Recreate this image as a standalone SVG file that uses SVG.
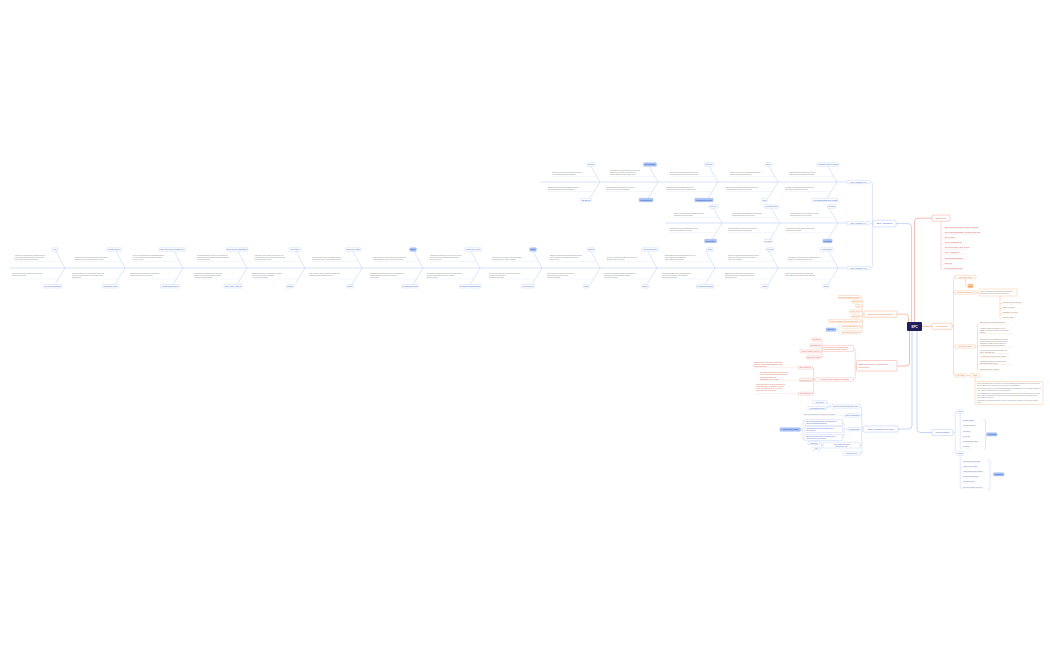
<svg xmlns="http://www.w3.org/2000/svg" width="1050" height="650" viewBox="0 0 1050 650">
<style>
text{font-family:"Liberation Sans",Arial,sans-serif}
.l{fill:#fff;stroke:#b7cbf5;stroke-width:.4}
.lf{fill:#a9c3f7;stroke:#8eaff1;stroke-width:.4}
.t{font-size:1.8px;fill:#3d5fc8;text-anchor:middle}
.tf{font-size:1.8px;fill:#1f3c8f;text-anchor:middle}
.g{font-size:1.5px;fill:#7c7c7c}
.sp{stroke:#c3d4f6;stroke-width:.7;fill:none}
.rb{stroke:#b3c7f3;stroke-width:.45;fill:none}
.ul{stroke:#d6e1f7;stroke-width:.3;fill:none}
.ulo{stroke:#f9d3b5;stroke-width:.3;fill:none}
.ulr{stroke:#f6c9c4;stroke-width:.3;fill:none}
.lo{fill:#fff;stroke:#f6b88b;stroke-width:.4}
.lof{fill:#fbc08f;stroke:#f4a264;stroke-width:.4}
.lr{fill:#fff;stroke:#f2a9a2;stroke-width:.4}
.to{font-size:1.8px;fill:#e07b31;text-anchor:middle}
.tr{font-size:1.8px;fill:#d5534a;text-anchor:middle}
.rt{font-size:1.45px;fill:#d5534a}
.ot{font-size:1.45px;fill:#8a7566}
.co{stroke:#f6b88b;stroke-width:.45;fill:none}
.cr{stroke:#f2a9a2;stroke-width:.45;fill:none}
.cb{stroke:#b7cbf5;stroke-width:.45;fill:none}
.main{stroke-width:.8}
.big{font-size:2.2px}
.sm{font-size:1.55px}
</style>
<rect width="1050" height="650" fill="#fff"/>

<!-- connectors from root -->
<g id="connectors">
<path class="cr main" d="M914.5,322V221.5Q914.5,218.2 917.8,218.2H932"/>
<path class="cb main" d="M896,223.6H908.3Q911.5,223.6 911.5,226.8V322"/>
<path class="co main" d="M897,314.1H905Q908.5,314.1 908.5,317.6V322"/>
<path class="cr main" d="M897,366H906Q909.5,366 909.5,362.5V331"/>
<path class="cb main" d="M898,429H908.5Q912,429 912,425.5V331"/>
<path class="co main" d="M922,326.3H932"/>
<path class="cb main" d="M917,331V429Q917,432.5 920.5,432.5H932"/>
</g>

<!-- root -->
<g id="root">
<rect x="907" y="322" width="15" height="9" rx="1" fill="#211e5e"/>
<text x="914.5" y="327.6" font-size="3" font-weight="bold" fill="#fff" text-anchor="middle">EPC</text>
</g>

<!-- EPC Application with fishbones -->
<g id="epc-application">
<rect class="l" x="873" y="220.3" width="23" height="6.6" rx="1" style="stroke-width:.55"/>
<text class="t big" x="884.5" y="224.4">EPC Application</text>
<path class="cb" d="M870,182H870.7Q872.5,182 872.5,183.8V266.2Q872.5,268 870.7,268H870M870,223.6H873"/>
</g>

<g id="fishbone-v13">
<path class="sp" d="M540,182H847"/>
<rect class="l" x="847" y="180.3" width="23" height="3.4" rx=".6"/>
<text class="t" x="858.5" y="182.6" style="font-size:1.7px">EPC Application V1.3</text>
<g id="v13-r1">
<path class="rb" d="M591,166.2L600,182L590,198.3"/>
<rect class="l" x="587.3" y="162.8" width="7.4" height="3.4" rx=".6"/><text class="t" x="591" y="165.15">Sketch</text>
<rect class="l" x="580.5" y="198.3" width="11" height="3.4" rx=".6"/><text class="t" x="586" y="200.65">CE-BUILD</text>
<text class="g" x="552" y="172.8">Sketch of the concept is prepared for the first<tspan x="552" dy="2.1">client workshop and early feedback.</tspan></text>
<path class="ul" d="M552,176.5H596.9"/>
<text class="g" x="548" y="187.8">CE build of the basic design package with the<tspan x="548" dy="2.1">key equipment list and plot plan layouts.</tspan></text>
<path class="ul" d="M548,191.5H594.2"/>
</g>
<g id="v13-r2">
<path class="rb" d="M649,166.2L658,182L648,198.3"/>
<rect class="lf" x="643.6" y="162.8" width="12.8" height="3.4" rx=".6"/><text class="tf" x="650" y="165.15">Deliverables</text>
<rect class="lf" x="639.2" y="198.3" width="13.7" height="3.4" rx=".6"/><text class="tf" x="646" y="200.65">Manufacturing</text>
<text class="g" x="610" y="170.7">Deliverables list is agreed with the client and<tspan x="610" dy="2.1">linked to the payment milestones of the</tspan><tspan x="610" dy="2.1">contract. Each item has a single owner.</tspan></text>
<path class="ul" d="M610,176.5H654.9"/>
<text class="g" x="606" y="187.8">Manufacturing of long lead items is started<tspan x="606" dy="2.1">early to protect the overall schedule.</tspan></text>
<path class="ul" d="M606,191.5H652.2"/>
</g>
<g id="v13-r3">
<path class="rb" d="M709,166.2L718,182L708,198.3"/>
<rect class="l" x="704.4" y="162.8" width="9.2" height="3.4" rx=".6"/><text class="t" x="709" y="165.15">Delivery</text>
<rect class="lf" x="694.9" y="198.3" width="18.2" height="3.4" rx=".6"/><text class="tf" x="704" y="200.65">Manufacturing Plan</text>
<text class="g" x="670" y="172.8">Delivery report shows the status of all the<tspan x="670" dy="2.1">deliverables and the open issues per area.</tspan></text>
<path class="ul" d="M670,176.5H714.9"/>
<text class="g" x="666" y="187.8">Manufacturing plan is aligned with the site<tspan x="666" dy="2.1">construction sequence and the logistics plan.</tspan></text>
<path class="ul" d="M666,191.5H712.2"/>
</g>
<g id="v13-r4">
<path class="rb" d="M769,166.2L778,182L768,198.3"/>
<rect class="l" x="765.3" y="162.8" width="6.5" height="3.4" rx=".6"/><text class="t" x="768.5" y="165.15">Story</text>
<rect class="l" x="761.7" y="198.3" width="5.6" height="3.4" rx=".6"/><text class="t" x="764.5" y="200.65">Step</text>
<text class="g" x="730" y="172.8">Story of the project is documented for lessons<tspan x="730" dy="2.1">learned and for future EPC bids.</tspan></text>
<path class="ul" d="M730,176.5H774.9"/>
<text class="g" x="726" y="187.8">Each step of the workflow has a clear entry and<tspan x="726" dy="2.1">exit criteria agreed with the client team.</tspan></text>
<path class="ul" d="M726,191.5H772.2"/>
</g>
<g id="v13-r5">
<path class="rb" d="M828,166.2L837,182L827,198.3"/>
<rect class="l" x="817.1" y="162.8" width="21.8" height="3.4" rx=".6"/><text class="t" x="828" y="165.15">Program Feature Mining</text>
<rect class="l" x="812.3" y="198.3" width="25.4" height="3.4" rx=".6"/><text class="t" x="825" y="200.65">Approach Engagement Mining</text>
<text class="g" x="789" y="172.8">Program feature mining collects the key<tspan x="789" dy="2.1">features from previous EPC programs.</tspan></text>
<path class="ul" d="M789,176.5H833.9"/>
<text class="g" x="785" y="187.8">Approach for engagement mining with client<tspan x="785" dy="2.1">and vendors is defined at the start.</tspan></text>
<path class="ul" d="M785,191.5H831.2"/>
</g>
</g>

<g id="fishbone-v14">
<path class="sp" d="M665,223H847"/>
<rect class="l" x="847" y="221.3" width="23" height="3.4" rx=".6"/>
<text class="t" x="858.5" y="223.6" style="font-size:1.7px">EPC Application V1.4</text>
<g id="v14-r1">
<path class="rb" d="M713,208.2L722,223L712,239.3"/>
<rect class="l" x="708.9" y="204.8" width="9.2" height="3.4" rx=".6"/><text class="t" x="713.5" y="207.15">Delivery</text>
<rect class="lf" x="704.6" y="239.3" width="11.9" height="3.4" rx=".6"/><text class="tf" x="710.5" y="241.65">Deliverable</text>
<text class="g" x="674" y="213.8">Delivery of the documents follows the agreed<tspan x="674" dy="2.1">document control procedure.</tspan></text>
<path class="ul" d="M674,217.5H718.7"/>
<text class="g" x="670" y="229">Deliverable register is updated after each<tspan x="670" dy="2.1">issue and transmittal to the client.</tspan></text>
<path class="ul" d="M670,232.7H716.1"/>
</g>
<g id="v14-r2">
<path class="rb" d="M771,208.2L780,223L770,239.3"/>
<rect class="l" x="764.7" y="204.8" width="13.7" height="3.4" rx=".6"/><text class="t" x="771.5" y="207.15">Meeting Notes</text>
<rect class="l" x="763.9" y="239.3" width="8.3" height="3.4" rx=".6"/><text class="t" x="768" y="241.65">Meeting</text>
<text class="g" x="732" y="213.8">Meeting notes are shared within two working<tspan x="732" dy="2.1">days together with all action items.</tspan></text>
<path class="ul" d="M732,217.5H776.7"/>
<text class="g" x="728" y="229">Meeting schedule is fixed for the full project<tspan x="728" dy="2.1">duration and shared in the calendar.</tspan></text>
<path class="ul" d="M728,232.7H774.1"/>
</g>
<g id="v14-r3">
<path class="rb" d="M829,208.2L838,223L828,239.3"/>
<rect class="l" x="827.4" y="204.8" width="8.3" height="3.4" rx=".6"/><text class="t" x="831.5" y="207.15">Meeting</text>
<rect class="lf" x="822.9" y="239.3" width="9.2" height="3.4" rx=".6"/><text class="tf" x="827.5" y="241.65">Meetings</text>
<text class="g" x="790" y="213.8">Meeting with the client to confirm the scope<tspan x="790" dy="2.1">and the priorities for the release.</tspan></text>
<path class="ul" d="M790,217.5H834.7"/>
<text class="g" x="786" y="229">Meetings are recorded and the minutes are<tspan x="786" dy="2.1">approved by all parties.</tspan></text>
<path class="ul" d="M786,232.7H832.1"/>
</g>
</g>

<g id="fishbone-v15">
<path class="sp" d="M10,268H847"/>
<rect class="l" x="847" y="266.3" width="23" height="3.4" rx=".6"/>
<text class="t" x="858.5" y="268.6" style="font-size:1.7px">EPC Application V1.5</text>
<g id="v15-r1">
<path class="rb" d="M56,251.2L65,268L55,284.6"/>
<rect class="l" x="52" y="247.8" width="6" height="3.4" rx=".6"/><text class="t" x="55" y="250.15">Idle</text>
<rect class="l" x="43" y="284.6" width="19" height="3.4" rx=".6"/><text class="t" x="52.5" y="286.95">Cell Process Markup</text>
<text class="g" x="15" y="256">Idle state is tracked before the EPC kickoff so<tspan x="15" dy="2.1">that all stakeholders know the current status</tspan><tspan x="15" dy="2.1">of the work package and the owner.</tspan></text>
<path class="ul" d="M15,261.5H61.5"/>
<text class="g" x="12" y="273.5">Cell process markup is shared with the design<tspan x="12" dy="2.1">team for early review.</tspan></text>
<path class="ul" d="M12,279H58.4"/>
</g>
<g id="v15-r2">
<path class="rb" d="M116,251.2L125,268L115,284.6"/>
<rect class="l" x="107" y="247.8" width="14" height="3.4" rx=".6"/><text class="t" x="114" y="250.15">Control Group</text>
<rect class="l" x="102.5" y="284.6" width="15.5" height="3.4" rx=".6"/><text class="t" x="110.25" y="286.95">Contracted Work</text>
<text class="g" x="75" y="258.1">Control group verifies each engineering package<tspan x="75" dy="2.1">against the agreed template before release.</tspan></text>
<path class="ul" d="M75,261.5H121.5"/>
<text class="g" x="72" y="273.5">Contracted work is split into packages with clear<tspan x="72" dy="2.1">scope, cost and schedule for each vendor and</tspan><tspan x="72" dy="2.1">subcontractor.</tspan></text>
<path class="ul" d="M72,279H118.4"/>
</g>
<g id="v15-r3">
<path class="rb" d="M174,251.2L183,268L173,284.6"/>
<rect class="l" x="159" y="247.8" width="26" height="3.4" rx=".6"/><text class="t" x="172" y="250.15">EPC Test Using Template Set</text>
<rect class="l" x="160.5" y="284.6" width="19" height="3.4" rx=".6"/><text class="t" x="170" y="286.95">Collaboration Group</text>
<text class="g" x="133" y="256">Test set is created using the standard template<tspan x="133" dy="2.1">set for all EPC deliverables and is validated</tspan><tspan x="133" dy="2.1">by the QA team.</tspan></text>
<path class="ul" d="M133,261.5H179.5"/>
<text class="g" x="130" y="273.5">Collaboration group reviews the results and<tspan x="130" dy="2.1">raises issues for the next iteration.</tspan></text>
<path class="ul" d="M130,279H176.4"/>
</g>
<g id="v15-r4">
<path class="rb" d="M238,251.2L247,268L237,284.6"/>
<rect class="l" x="226.5" y="247.8" width="21" height="3.4" rx=".6"/><text class="t" x="237" y="250.15">EPC Review Submission</text>
<rect class="l" x="224" y="284.6" width="18" height="3.4" rx=".6"/><text class="t" x="233" y="286.95">EPC Login Approval</text>
<text class="g" x="197" y="256">Review submission is sent to the client with all<tspan x="197" dy="2.1">supporting documents and calculations attached</tspan><tspan x="197" dy="2.1">for formal approval.</tspan></text>
<path class="ul" d="M197,261.5H243.5"/>
<text class="g" x="194" y="273.5">Login approval is granted to the client and<tspan x="194" dy="2.1">partners for the shared document portal.</tspan><tspan x="194" dy="2.1">Access is reviewed monthly.</tspan></text>
<path class="ul" d="M194,279H240.4"/>
</g>
<g id="v15-r5">
<path class="rb" d="M296,251.2L305,268L295,284.6"/>
<rect class="l" x="289" y="247.8" width="12" height="3.4" rx=".6"/><text class="t" x="295" y="250.15">Idle Gainer</text>
<rect class="l" x="286.3" y="284.6" width="7.4" height="3.4" rx=".6"/><text class="t" x="290" y="286.95">Ending</text>
<text class="g" x="255" y="256">Idle gainer time is used to prepare the next<tspan x="255" dy="2.1">work package and to close open action items</tspan><tspan x="255" dy="2.1">from the previous review.</tspan></text>
<path class="ul" d="M255,261.5H301.5"/>
<text class="g" x="252" y="273.5">Ending of the phase is confirmed by a formal<tspan x="252" dy="2.1">sign-off from the project manager.</tspan><tspan x="252" dy="2.1">All records are archived.</tspan></text>
<path class="ul" d="M252,279H298.4"/>
</g>
<g id="v15-r6">
<path class="rb" d="M353,251.2L362,268L352,284.6"/>
<rect class="l" x="345.3" y="247.8" width="15.4" height="3.4" rx=".6"/><text class="t" x="353" y="250.15">Challenge Phase</text>
<rect class="l" x="346.8" y="284.6" width="6.5" height="3.4" rx=".6"/><text class="t" x="350" y="286.95">Scope</text>
<text class="g" x="312" y="258.1">Challenge phase collects feedback from the<tspan x="312" dy="2.1">construction team on constructability issues.</tspan></text>
<path class="ul" d="M312,261.5H358.5"/>
<text class="g" x="309" y="273.5">Scope is frozen after the challenge phase and<tspan x="309" dy="2.1">changes go through change control.</tspan></text>
<path class="ul" d="M309,279H355.4"/>
</g>
<g id="v15-r7">
<path class="rb" d="M414,251.2L423,268L413,284.6"/>
<rect class="lf" x="409.8" y="247.8" width="6.5" height="3.4" rx=".6"/><text class="tf" x="413" y="250.15">Scope</text>
<rect class="l" x="401.8" y="284.6" width="16.4" height="3.4" rx=".6"/><text class="t" x="410" y="286.95">Continuous Scrum</text>
<text class="g" x="373" y="258.1">Scope definition covers engineering, procurement<tspan x="373" dy="2.1">and construction items for the current release.</tspan></text>
<path class="ul" d="M373,261.5H419.5"/>
<text class="g" x="370" y="273.5">Continuous scrum meetings keep the team aligned<tspan x="370" dy="2.1">on daily progress, blockers and priorities</tspan><tspan x="370" dy="2.1">for the sprint.</tspan></text>
<path class="ul" d="M370,279H416.4"/>
</g>
<g id="v15-r8">
<path class="rb" d="M471,251.2L480,268L470,284.6"/>
<rect class="l" x="464.8" y="247.8" width="16.4" height="3.4" rx=".6"/><text class="t" x="473" y="250.15">Challenge Period</text>
<rect class="l" x="459.5" y="284.6" width="21" height="3.4" rx=".6"/><text class="t" x="470" y="286.95">Continuous Engagement</text>
<text class="g" x="430" y="256">Challenge period gives the client time to review<tspan x="430" dy="2.1">and challenge the proposed design solution</tspan><tspan x="430" dy="2.1">before the freeze.</tspan></text>
<path class="ul" d="M430,261.5H476.5"/>
<text class="g" x="427" y="273.5">Continuous engagement with the client and vendors<tspan x="427" dy="2.1">ensures fast decisions and fewer reworks</tspan><tspan x="427" dy="2.1">during execution.</tspan></text>
<path class="ul" d="M427,279H473.4"/>
</g>
<g id="v15-r9">
<path class="rb" d="M533,251.2L542,268L532,284.6"/>
<rect class="lf" x="529.8" y="247.8" width="6.5" height="3.4" rx=".6"/><text class="tf" x="533" y="250.15">Scope</text>
<rect class="l" x="521.6" y="284.6" width="12.8" height="3.4" rx=".6"/><text class="t" x="528" y="286.95">Lap Reviewer</text>
<text class="g" x="492" y="258.1">Scope for the next phase is reviewed against<tspan x="492" dy="2.1">the budget and the master schedule.</tspan></text>
<path class="ul" d="M492,261.5H538.5"/>
<text class="g" x="489" y="273.5">Lap reviewer checks every deliverable before it<tspan x="489" dy="2.1">is issued for construction.</tspan><tspan x="489" dy="2.1">Comments are logged.</tspan></text>
<path class="ul" d="M489,279H535.4"/>
</g>
<g id="v15-r10">
<path class="rb" d="M591,251.2L600,268L590,284.6"/>
<rect class="l" x="587.3" y="247.8" width="7.4" height="3.4" rx=".6"/><text class="t" x="591" y="250.15">Budget</text>
<rect class="l" x="583.2" y="284.6" width="5.6" height="3.4" rx=".6"/><text class="t" x="586" y="286.95">Cost</text>
<text class="g" x="550" y="256">Budget is tracked per work package with earned<tspan x="550" dy="2.1">value reporting every month to the sponsor</tspan><tspan x="550" dy="2.1">and the client.</tspan></text>
<path class="ul" d="M550,261.5H596.5"/>
<text class="g" x="547" y="273.5">Cost variance is reported to the steering<tspan x="547" dy="2.1">committee with a recovery plan.</tspan><tspan x="547" dy="2.1">Forecast is updated.</tspan></text>
<path class="ul" d="M547,279H593.4"/>
</g>
<g id="v15-r11">
<path class="rb" d="M648,251.2L657,268L647,284.6"/>
<rect class="l" x="641.8" y="247.8" width="16.4" height="3.4" rx=".6"/><text class="t" x="650" y="250.15">Cut: Build Phase</text>
<rect class="l" x="641.8" y="284.6" width="6.5" height="3.4" rx=".6"/><text class="t" x="645" y="286.95">Scope</text>
<text class="g" x="607" y="258.1">Cut-over to build phase happens only after all<tspan x="607" dy="2.1">design reviews are closed.</tspan></text>
<path class="ul" d="M607,261.5H653.5"/>
<text class="g" x="604" y="273.5">Scope changes during build are minimised and<tspan x="604" dy="2.1">assessed for cost and schedule impact.</tspan><tspan x="604" dy="2.1">Approval is required.</tspan></text>
<path class="ul" d="M604,279H650.4"/>
</g>
<g id="v15-r12">
<path class="rb" d="M706,251.2L715,268L705,284.6"/>
<rect class="l" x="706.8" y="247.8" width="6.5" height="3.4" rx=".6"/><text class="t" x="710" y="250.15">Build</text>
<rect class="l" x="696.4" y="284.6" width="17.3" height="3.4" rx=".6"/><text class="t" x="705" y="286.95">Continuous Budget</text>
<text class="g" x="665" y="256">Build phase starts with mobilisation of the site<tspan x="665" dy="2.1">team, equipment and materials.</tspan><tspan x="665" dy="2.1">Safety induction comes first.</tspan></text>
<path class="ul" d="M665,261.5H711.5"/>
<text class="g" x="662" y="273.5">Continuous budget control during build with<tspan x="662" dy="2.1">weekly cost reports for every discipline.</tspan><tspan x="662" dy="2.1">Cash flow is monitored.</tspan></text>
<path class="ul" d="M662,279H708.4"/>
</g>
<g id="v15-r13">
<path class="rb" d="M769,251.2L778,268L768,284.6"/>
<rect class="l" x="766.3" y="247.8" width="7.4" height="3.4" rx=".6"/><text class="t" x="770" y="250.15">Review</text>
<rect class="l" x="761.8" y="284.6" width="6.5" height="3.4" rx=".6"/><text class="t" x="765" y="286.95">Build</text>
<text class="g" x="728" y="256">Review of construction progress with the client<tspan x="728" dy="2.1">and the site supervision team every week.</tspan><tspan x="728" dy="2.1">Issues are escalated.</tspan></text>
<path class="ul" d="M728,261.5H774.5"/>
<text class="g" x="725" y="273.5">Build quality is inspected at each hold point<tspan x="725" dy="2.1">and punch lists are closed before handover.</tspan><tspan x="725" dy="2.1">Records are kept.</tspan></text>
<path class="ul" d="M725,279H771.4"/>
</g>
<g id="v15-r14">
<path class="rb" d="M829,251.2L838,268L828,284.6"/>
<rect class="l" x="820.6" y="247.8" width="12.8" height="3.4" rx=".6"/><text class="t" x="827" y="250.15">Contribution</text>
<rect class="l" x="822.8" y="284.6" width="6.5" height="3.4" rx=".6"/><text class="t" x="826" y="286.95">Login</text>
<text class="g" x="788" y="258.1">Contribution of each discipline is measured and<tspan x="788" dy="2.1">shared in the weekly progress report.</tspan></text>
<path class="ul" d="M788,261.5H834.5"/>
<text class="g" x="785" y="273.5">Login to the project portal is required for all<tspan x="785" dy="2.1">team members to access the latest drawings.</tspan></text>
<path class="ul" d="M785,279H831.4"/>
</g>
</g>

<!-- EPC Tech Considerations -->
<g id="epc-tech">
<rect class="lo" x="864" y="311" width="33" height="6.2" rx="1" style="stroke-width:.55"/>
<text class="to big" x="880.5" y="314.9">EPC Tech Considerations</text>
<path class="co" d="M864,314.1H862.3M860,297Q862.3,297 862.3,299.3V330.4Q862.3,332.7 860,332.7M862.3,301.5H860M862.3,306H860M862.3,311.3H860M862.3,316.3H860M862.3,321.2H860M862.3,326.8H860"/>
<rect class="lo" x="838.5" y="295.5" width="21.5" height="3" rx=".5"/><text class="to sm" x="849.25" y="297.55">EPC Requirements (Domain)</text>
<rect class="lo" x="851.8" y="300" width="8.2" height="3" rx=".5"/><text class="to sm" x="855.9" y="302.05">EPC plan</text>
<rect class="lo" x="855.5" y="304.5" width="4.5" height="3" rx=".5"/><text class="to sm" x="857.75" y="306.55">QC</text>
<rect class="lo" x="849.4" y="309.8" width="10.6" height="3" rx=".5"/><text class="to sm" x="854.7" y="311.85">Plan to CAD</text>
<rect class="lo" x="851" y="314.8" width="9" height="3" rx=".5"/><text class="to sm" x="855.5" y="316.85">Workflows</text>
<rect class="lo" x="828.4" y="319.7" width="31.6" height="3" rx=".5"/><text class="to sm" x="844.2" y="321.75">CAD File Transfer Requirements for EPC</text>
<rect class="lo" x="841.6" y="325.3" width="18.4" height="3" rx=".5"/><text class="to sm" x="850.8" y="327.35">EPC Tracking approval</text>
<rect class="lo" x="841.6" y="330.9" width="18.4" height="3" rx=".5"/><text class="to sm" x="850.8" y="332.95">EPC Tracking workflow</text>
<path class="cb" d="M840.5,325.3Q838.5,325.3 838.5,327V328.3Q838.5,329.6 837.3,329.6Q838.5,329.6 838.5,330.9V332.6Q838.5,334.2 840.5,334.2"/>
<rect class="lf" x="826" y="327.9" width="10" height="3.4" rx=".6"/><text class="tf" x="831" y="330.25">Delivery</text>
</g>

<!-- EPC Dependency -->
<g id="epc-dependency">
<rect class="lr" x="856.5" y="360.5" width="40.5" height="10.5" rx="1" style="stroke-width:.55"/>
<text class="tr big" x="858.5" y="364.6" style="text-anchor:start">EPC Dependency captured for<tspan x="858.5" dy="3.1">our delivery</tspan></text>
<path class="cr" d="M856.5,366H855.2M853.5,348.5Q855.2,348.5 855.2,350.2V377.8Q855.2,379.5 853.5,379.5"/>
<rect class="lr" x="823" y="345.5" width="30.5" height="6" rx=".6"/>
<text class="rt" x="824.5" y="348">Interdependency for EPC Design and<tspan x="824.5" dy="2.3">Sequencing Dependency (workflow)</tspan></text>
<path class="cr" d="M823,348.5H822M820.8,339.5Q822,339.5 822,340.7V356.1Q822,357.3 820.8,357.3M822,345.5H820.8M822,351.4H820.8"/>
<rect class="lr" x="812" y="338" width="8.8" height="3" rx=".5"/><text class="tr sm" x="816.4" y="340.05">Sub-Steps</text>
<rect class="lr" x="809.8" y="344" width="11" height="3" rx=".5"/><text class="tr sm" x="815.3" y="346.05">Parameterize</text>
<rect class="lr" x="800" y="349.9" width="20.8" height="3" rx=".5"/><text class="tr sm" x="810.4" y="351.95">Simple Feasibility Review</text>
<rect class="lr" x="806" y="355.8" width="14.8" height="3" rx=".5"/><text class="tr sm" x="813.4" y="357.85">Trade Study Phase</text>
<rect class="lr" x="815" y="377.8" width="38.5" height="3.4" rx=".6"/><text class="tr" x="834.25" y="380.05" style="font-size:1.5px">4. Cross-Dept Phase Transition Dependency</text>
<path class="cr" d="M815,379.5H813.7M812.5,367.7Q813.7,367.7 813.7,368.9V392.5Q813.7,393.7 812.5,393.7M813.7,380H812.5"/>
<rect class="lr" x="798.5" y="366.2" width="14" height="3" rx=".5"/><text class="tr sm" x="805.5" y="368.25">EPC Integration</text>
<rect class="lr" x="799.5" y="378.5" width="13" height="3" rx=".5"/><text class="tr sm" x="806" y="380.55">EPC Execution</text>
<rect class="lr" x="798.5" y="392.2" width="14" height="3" rx=".5"/><text class="tr sm" x="805.5" y="394.25">EPC Operations</text>
<text class="rt" x="754" y="362.5">These activities focus on their dependencies<tspan x="754" dy="2.1">with other interdependent components of the</tspan><tspan x="754" dy="2.1">final implementation.</tspan></text>
<path class="ulr" d="M754,367.7H798.5"/>
<text class="rt" x="760" y="373.3">Cross-functional activities that depend on the<tspan x="760" dy="2.1">output of engineering, procurement and the</tspan><tspan x="760" dy="2.1">construction teams for the</tspan><tspan x="760" dy="2.1">synchronisation of the design.</tspan></text>
<path class="ulr" d="M760,380.2H799.5"/>
<text class="rt" x="756" y="385">These activities are directly interdependent in<tspan x="756" dy="2.1">operations, which tie each phase to the next,</tspan><tspan x="756" dy="2.1">so any delay has a knock-on effect on the</tspan><tspan x="756" dy="2.1">operations of the overall output.</tspan></text>
<path class="ulr" d="M756,393.7H798.5"/>
</g>

<!-- EPC Certification Process -->
<g id="epc-certification">
<rect class="l" x="863" y="425.9" width="35" height="6.2" rx="1" style="stroke-width:.55"/>
<text class="t big" x="880.5" y="429.8">EPC Certification Process</text>
<path class="cb" d="M863,429H861.8M860,406.5Q861.8,406.5 861.8,408.3V451.7Q861.8,453.5 860,453.5M861.8,415.5H860M861.8,445H860"/>
<rect class="l" x="830.7" y="404.8" width="29.3" height="3.4" rx=".6"/><text class="t sm" x="845.35" y="407.05">EPC Certification Stages and Levels</text>
<path class="cb" d="M830.7,406.5H828M826.5,402.2Q828,402.2 828,403.7V406.5Q828,408 826.5,408"/>
<rect class="l" x="812.5" y="400.7" width="14" height="3" rx=".5"/><text class="t sm" x="819.5" y="402.75">Next Steps</text>
<rect class="l" x="808" y="406.5" width="18.5" height="3" rx=".5"/><text class="t sm" x="817.25" y="408.55">Performance Review</text>
<rect class="l" x="844.7" y="413.8" width="15.3" height="3.4" rx=".6"/><text class="t sm" x="852.35" y="416.05">EPC Process Build</text>
<text class="g" x="804" y="414.6">EPC process delivery is certified for all phases</text>
<path class="ul" d="M804,415.5H844.7"/>
<rect class="l" x="848" y="427.3" width="12" height="3.4" rx=".6"/><text class="t sm" x="854" y="429.55">Process Steps</text>
<path class="cb" d="M848,429H844M842.5,422.5Q844,422.5 844,424V436Q844,437.5 842.5,437.5"/>
<rect class="l" x="805" y="419.5" width="37.5" height="6" rx=".6"/>
<text class="g" x="806.5" y="422.1" style="fill:#3d5fc8">EPC stage checklist for all the required items<tspan x="806.5" dy="2.2">and the supporting documents</tspan></text>
<rect class="l" x="805" y="426.5" width="37.5" height="6" rx=".6"/>
<text class="g" x="806.5" y="429.1" style="fill:#3d5fc8">Certification review for each stage of the<tspan x="806.5" dy="2.2">EPC lifecycle</tspan></text>
<rect class="l" x="805" y="434.5" width="37.5" height="6" rx=".6"/>
<text class="g" x="806.5" y="437.1" style="fill:#3d5fc8">EPC stage approval sign-off followed by the<tspan x="806.5" dy="2.2">certificate issue for the phase</tspan></text>
<path class="cb" d="M804.5,419.5Q803,419.5 803,421V428Q803,429.5 801.5,429.5Q803,429.5 803,431V439Q803,440.5 804.5,440.5"/>
<rect class="lf" x="780" y="427.8" width="20.5" height="3.4" rx=".6"/><text class="tf sm" x="790.25" y="430.05">Approval Flow for EPC</text>
<rect class="l" x="823" y="442.2" width="37" height="5.8" rx=".6"/>
<text class="t sm" x="841.5" y="444.6">Approval Stage for EPC<tspan x="841.5" dy="2.2">Certification Audit</tspan></text>
<path class="cb" d="M823,445H821.5M820,443Q821.5,443 821.5,444.3V447.3Q821.5,448.6 820,448.6"/>
<rect class="l" x="808" y="441.5" width="12" height="3" rx=".5"/><text class="t sm" x="814" y="443.55">Sub-Stage</text>
<rect class="l" x="812" y="447.1" width="8" height="3" rx=".5"/><text class="t sm" x="816" y="449.15">Audit</text>
<rect class="l" x="843" y="451.8" width="17" height="3.4" rx=".6"/><text class="t sm" x="851.5" y="454.05">Publication Link</text>
</g>

<!-- EPC Types -->
<g id="epc-types">
<rect class="lr" x="932" y="215" width="18" height="6.2" rx="1" style="stroke-width:.55"/>
<text class="tr big" x="941" y="218.9">EPC Types</text>
<path class="cr" d="M941,221.2V267.4Q941,268.9 942.5,268.9"/>
<g style="font-size:1.8px;fill:#d5534a">
<text x="945" y="227.8">EPC Lump Sum Turnkey (LSTK) Contract</text>
<text x="945" y="233">EPC Cost Reimbursable Contract (EPC-CR)</text>
<text x="945" y="238">EPC Turnkey</text>
<text x="945" y="243">EPCM (Management)</text>
<text x="945" y="248.2">EPC Convertible (EPC-C) Deal</text>
<text x="945" y="253.3">EPCI (Installation)</text>
<text x="945" y="258.5">EPC Design and Build</text>
<text x="945" y="263.5">EPC Lite</text>
<text x="945" y="268.5">EPC Operating Model</text>
</g>
<path class="ulr" d="M941,228.7H979M941,233.9H980M941,238.9H956M941,243.9H962M941,249.1H968M941,254.2H963M941,259.4H966M941,264.4H953M941,269.4H964"/>
</g>

<!-- Interactions -->
<g id="interactions">
<rect class="lo" x="932" y="323.2" width="20" height="6.2" rx="1" style="stroke-width:.55"/>
<text class="to big" x="942" y="327.1">Interactions</text>
<path class="co" d="M952,326.3H953.5M955,277Q953.5,277 953.5,278.5V374Q953.5,375.5 955,375.5M953.5,292.5H955M953.5,346.5H955"/>
<rect class="lo" x="955" y="275.3" width="21" height="3.4" rx=".6"/><text class="to" x="965.5" y="277.65">Interaction Setup</text>
<path class="co" d="M965.5,278.7V284.5Q965.5,286 967,286H968"/>
<rect class="lof" x="968" y="284.3" width="5" height="3.4" rx=".6"/><text class="to" x="970.5" y="286.65" style="fill:#b4581a">Up</text>
<rect class="lo" x="955" y="290.8" width="21" height="3.4" rx=".6"/><text class="to" x="965.5" y="293.15">Interaction Sequence</text>
<path class="co" d="M976,292.5H979"/>
<rect class="lo" x="979" y="289" width="38" height="7" rx=".6"/>
<text class="ot" x="980.5" y="291.9">Guide interactions from component to final system<tspan x="980.5" dy="2.4">and make the delivery sequence visible to all</tspan></text>
<path class="co" d="M1000,296V317.6Q1000,318.9 1001.3,318.9M1000,303.8H1002M1000,308.8H1002M1000,313.8H1002"/>
<g class="ot" style="font-size:1.5px">
<text x="1002.5" y="303.4">Integrate each unit with plan</text>
<text x="1002.5" y="308.4">Quality Verification</text>
<text x="1002.5" y="313.4">Collaborative Approval</text>
<text x="1002.5" y="318.4">Handover Phase</text>
</g>
<path class="ulo" d="M1002,303.9H1023M1002,308.9H1018M1002,313.9H1020M1002,318.9H1014"/>
<rect class="lo" x="955" y="344.8" width="20" height="3.4" rx=".6"/><text class="to" x="965" y="347.15">Interaction Flows</text>
<path class="co" d="M975,346.5H977.5M977.5,324V370.4"/>
<text class="ot" x="980" y="323.2">Each cascade is following this workflow</text>
<text class="ot" x="980" y="328.5">Feasibility design is performed for every<tspan x="980" dy="2.1">change request and evaluated by the design</tspan><tspan x="980" dy="2.1">authority.</tspan></text>
<text class="ot" x="980" y="339.8">EPC contractor is coordinating the interface<tspan x="980" dy="2.1">between engineering, procurement and the</tspan><tspan x="980" dy="2.1">construction teams so that the hand-off of</tspan><tspan x="980" dy="2.1">the disciplines is smooth and traceable.</tspan></text>
<text class="ot" x="980" y="350.5">Delivery stakeholders review the EPC flow<tspan x="980" dy="2.1">before each major gate.</tspan></text>
<text class="ot" x="980" y="356.8">All the EPC interfaces are clearly defined</text>
<text class="ot" x="980" y="361.5">Information is tracked in a central register<tspan x="980" dy="2.1">with owners and due dates.</tspan></text>
<text class="ot" x="980" y="369.5">Lessons learned are captured</text>
<path class="ulo" d="M977.5,324H1010M977.5,333.5H1013M977.5,347H1014M977.5,353.5H1010M977.5,357.7H1011M977.5,364.5H1012M977.5,370.4H1001"/>
<rect class="lo" x="955" y="373.8" width="11" height="3.4" rx=".6"/><text class="to" x="960.5" y="376.15">Use Tests</text>
<path class="co" d="M966,375.5H970M975,377.2V381.5"/>
<rect class="lo" x="970" y="373.8" width="10" height="3.4" rx=".6"/><text class="to" x="975" y="376.15">Tests</text>
<rect class="lo" x="975" y="381.5" width="68" height="23" rx=".6"/>
<g class="g" style="font-size:1.35px">
<text x="977" y="384">Factory acceptance tests are performed for all critical equipment before shipment to the site, witnessed by</text>
<text x="977" y="386">the client inspector and documented in the test report for each package.</text>
<text x="977" y="389.2">Site acceptance tests verify the installed systems against the design basis and the performance guarantees</text>
<text x="977" y="391.2">of the contract, including all safety and control functions.</text>
<text x="977" y="394.4">Pre-commissioning and commissioning tests are planned with the operations team so that the plant can be</text>
<text x="977" y="396.4">started up safely and handed over with all records, certificates, manuals and spare parts lists in place.</text>
<text x="977" y="398.4">Loop checks are completed.</text>
<text x="977" y="401.4">Performance tests confirm capacity and efficiency. Final acceptance is signed after all punch items are</text>
<text x="977" y="403.4">closed.</text>
</g>
</g>

<!-- Interoperability -->
<g id="interoperability">
<rect class="l" x="932" y="429.4" width="21" height="6.2" rx="1" style="stroke-width:.55"/>
<text class="t big" x="942.5" y="433.3">Interoperability</text>
<path class="cb" d="M953,432.5H955.2M957,411.5Q955.2,411.5 955.2,413.3V451.7Q955.2,453.5 957,453.5"/>
<rect class="l" x="957" y="409.8" width="6.5" height="3.4" rx=".6"/><text class="t" x="960.25" y="412.15">Pros</text>
<path class="cb" d="M960.2,413.2V447.4Q960.2,448.5 961.3,448.5"/>
<g style="font-size:1.5px;fill:#5a6f9f">
<text x="963" y="420.9">Standard Library</text>
<text x="963" y="426.2">Low Cost Reworks</text>
<text x="963" y="431.5">Reusability</text>
<text x="963" y="436.8">Fast Lead</text>
<text x="963" y="442.1">Communication Clarity</text>
<text x="963" y="447.4">Adaptable</text>
</g>
<path class="ul" d="M960.2,421.6H976M960.2,426.9H977M960.2,432.2H972M960.2,437.5H970M960.2,442.8H980M960.2,448.1H971"/>
<path class="cb" d="M983.5,419.5Q985.5,419.5 985.5,421.5V432.5Q985.5,434.4 986.5,434.4Q985.5,434.4 985.5,436.3V447Q985.5,449 983.5,449"/>
<rect class="lf" x="986.5" y="432.8" width="10.5" height="3.2" rx=".6"/><text class="tf" x="991.75" y="435" style="font-size:1.55px">Advantages</text>
<rect class="l" x="957" y="451.8" width="6.5" height="3.4" rx=".6"/><text class="t" x="960.25" y="454.15">Cons</text>
<path class="cb" d="M960.2,455.2V487.5Q960.2,488.6 961.3,488.6"/>
<g style="font-size:1.5px;fill:#5a6f9f">
<text x="963" y="461.9">No Tracking data for EPC</text>
<text x="963" y="466.9">Vendor Lock-in Risks</text>
<text x="963" y="471.9">Vague Requirements Sharing</text>
<text x="963" y="477.1">Rework Documentation</text>
<text x="963" y="482.3">Innovation Cycles</text>
<text x="963" y="487.5">Cost and Schedule Overruns</text>
</g>
<path class="ul" d="M960.2,462.6H982M960.2,467.6H979M960.2,472.6H985M960.2,477.8H980M960.2,483H976M960.2,488.2H985"/>
<path class="cb" d="M988,459.5Q990,459.5 990,461.5V472.6Q990,474.5 991.2,474.5Q990,474.5 990,476.4V488.5Q990,490.5 988,490.5"/>
<rect class="lf" x="993.5" y="472.8" width="10.5" height="3.2" rx=".6"/><text class="tf" x="998.75" y="475" style="font-size:1.55px">Drawbacks</text>
</g>
</svg>
